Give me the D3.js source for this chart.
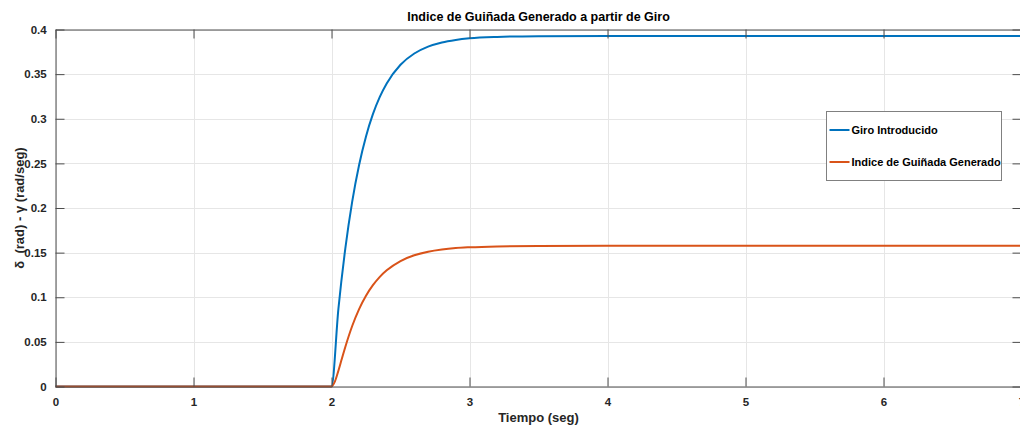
<!DOCTYPE html>
<html>
<head>
<meta charset="utf-8">
<script src="https://cdn.jsdelivr.net/npm/d3@7"></script>
<style>
  html, body { margin: 0; padding: 0; background: #fff; overflow: hidden; }
  svg { display: block; font-family: "Liberation Sans", Arial, Helvetica, sans-serif; }
</style>
</head>
<body>
<svg id="chart" width="1020" height="427"></svg>
<script>
// Time samples (s) and response values
const timeGiro = [0, 2, 2.05, 2.1, 2.15, 2.2, 2.25, 2.3, 2.35, 2.4, 2.5, 2.6, 2.7, 2.8, 2.9, 3.0, 3.2, 3.5, 4, 5, 6, 7];
const giroIntroducido = [0, 0, 0.0869, 0.1545, 0.2072, 0.2482, 0.2802, 0.3051, 0.3245, 0.3396, 0.3605, 0.3731, 0.3808, 0.3855, 0.3883, 0.3901, 0.3917, 0.3925, 0.3927, 0.3927, 0.3927, 0.3927];

const timeGuinada = [0, 2, 2.025, 2.05, 2.075, 2.1, 2.15, 2.2, 2.25, 2.3, 2.35, 2.4, 2.5, 2.6, 2.7, 2.8, 2.9, 3.0, 3.2, 3.5, 4, 5, 6, 7];
const indiceGuinada = [0, 0, 0.0058, 0.0177, 0.0311, 0.0443, 0.0678, 0.0867, 0.1017, 0.1135, 0.1229, 0.1302, 0.1406, 0.1470, 0.1510, 0.1535, 0.1551, 0.1560, 0.1570, 0.1575, 0.1576, 0.1576, 0.1576, 0.1576];

const xTicks = [0, 1, 2, 3, 4, 5, 6, 7];
const yTicks = [0, 0.05, 0.1, 0.15, 0.2, 0.25, 0.3, 0.35, 0.4];

const seriesNames = ["Giro Introducido", "Indice de Guiñada Generado"];
const seriesColors = ["#0072BD", "#D95319"];

const svg = d3.select("#chart");
const plotLeft = 55.5, plotRight = 1021.5, plotTop = 29.5, plotBottom = 386.5;

const x = d3.scaleLinear().domain([0, 7]).range([plotLeft, plotRight]);
const y = d3.scaleLinear().domain([0, 0.4]).range([plotBottom, plotTop]);

const axisColor = "#4d4d4d";
const textColor = "#262626";

// Grid
const grid = svg.append("g");
grid.selectAll("line.gx").data(xTicks).join("line")
  .attr("x1", d => Math.round(x(d)) + 0.5).attr("x2", d => Math.round(x(d)) + 0.5)
  .attr("y1", plotTop).attr("y2", plotBottom)
  .attr("stroke", "#e6e6e6").attr("stroke-width", 1);
grid.selectAll("line.gy").data(yTicks).join("line")
  .attr("y1", d => Math.round(y(d)) + 0.5).attr("y2", d => Math.round(y(d)) + 0.5)
  .attr("x1", plotLeft).attr("x2", plotRight)
  .attr("stroke", "#e6e6e6").attr("stroke-width", 1);

// Curves
const line = d3.line().x(d => x(d[0])).y(d => y(d[1])).curve(d3.curveMonotoneX);
const data = [
  d3.zip(timeGiro, giroIntroducido),
  d3.zip(timeGuinada, indiceGuinada)
];
svg.append("g").selectAll("path").data(data).join("path")
  .attr("d", line)
  .attr("fill", "none")
  .attr("stroke", (d, i) => seriesColors[i])
  .attr("stroke-width", 2)
  .attr("stroke-linejoin", "round");

// Axes (ticks pointing inward, box on all sides)
const tickLen = 9;
const xAxis = d3.axisBottom(x).tickValues(xTicks).tickFormat(d3.format("d")).tickSizeInner(-tickLen).tickSizeOuter(0).tickPadding(14);
const yAxis = d3.axisLeft(y).tickValues(yTicks).tickFormat(d => d === 0 ? "0" : String(d)).tickSizeInner(-tickLen).tickSizeOuter(0).tickPadding(14);

const gx = svg.append("g").attr("transform", `translate(0,${plotBottom})`).call(xAxis);
const gy = svg.append("g").attr("transform", `translate(${plotLeft},0)`).call(yAxis);
const gxTop = svg.append("g").attr("transform", `translate(0,${plotTop})`)
  .call(d3.axisTop(x).tickValues(xTicks).tickFormat("").tickSizeInner(-tickLen).tickSizeOuter(0));
const gyRight = svg.append("g").attr("transform", `translate(${plotRight},0)`)
  .call(d3.axisRight(y).tickValues(yTicks).tickFormat("").tickSizeInner(-tickLen).tickSizeOuter(0));

[gx, gy, gxTop, gyRight].forEach(g => {
  g.select(".domain").attr("stroke", axisColor).attr("stroke-width", 1);
  g.selectAll(".tick line").attr("stroke", axisColor).attr("stroke-width", 1);
  g.selectAll(".tick text")
    .attr("fill", textColor)
    .attr("font-size", 11.5)
    .attr("font-weight", "bold")
    .attr("font-family", "'Liberation Sans', Arial, sans-serif");
});
gx.selectAll(".tick text").attr("dy", "0.45em");
gy.selectAll(".tick text").attr("dx", "0.45em");

// Title and axis labels
svg.append("text")
  .attr("x", (plotLeft + plotRight) / 2).attr("y", 21)
  .attr("text-anchor", "middle")
  .attr("font-size", 12.5).attr("font-weight", "bold").attr("fill", "#000")
  .text("Indice de Guiñada Generado a partir de Giro");

svg.append("text")
  .attr("x", (plotLeft + plotRight) / 2).attr("y", 422)
  .attr("text-anchor", "middle")
  .attr("font-size", 13).attr("font-weight", "bold").attr("fill", textColor)
  .text("Tiempo (seg)");

svg.append("text")
  .attr("transform", `translate(24,${(plotTop + plotBottom) / 2}) rotate(-90)`)
  .attr("text-anchor", "middle")
  .attr("font-size", 13).attr("font-weight", "bold").attr("fill", textColor)
  .attr("xml:space", "preserve")
  .style("white-space", "pre")
  .text("δ  (rad) - γ (rad/seg)");

// Legend
const legend = svg.append("g").attr("transform", "translate(826.5,111.5)");
legend.append("rect")
  .attr("width", 175).attr("height", 69)
  .attr("fill", "#fff").attr("stroke", "#808080").attr("stroke-width", 1);
const entries = legend.selectAll("g.entry").data(seriesNames).join("g")
  .attr("transform", (d, i) => `translate(0,${i === 0 ? 18.5 : 50.5})`);
entries.append("line")
  .attr("x1", 3).attr("x2", 23)
  .attr("stroke", (d, i) => seriesColors[i]).attr("stroke-width", 2);
entries.append("text")
  .attr("x", 25).attr("dy", "0.35em")
  .attr("font-size", 11).attr("font-weight", "bold").attr("fill", "#000")
  .text(d => d);
</script>
</body>
</html>
